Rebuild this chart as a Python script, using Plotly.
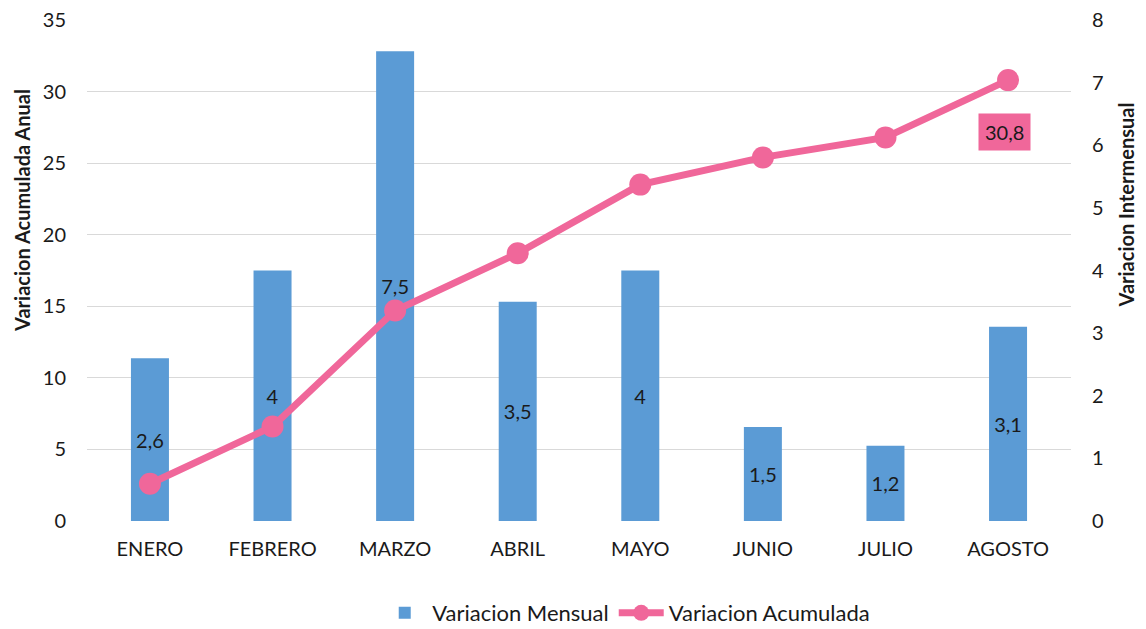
import plotly.graph_objects as go

months = ["ENERO", "FEBRERO", "MARZO", "ABRIL", "MAYO", "JUNIO", "JULIO", "AGOSTO"]
mensual = [2.6, 4, 7.5, 3.5, 4, 1.5, 1.2, 3.1]
acumulada = [2.6, 6.6, 14.7, 18.7, 23.5, 25.4, 26.8, 30.8]
left_ticks = [0, 5, 10, 15, 20, 25, 30, 35]
right_ticks = [0, 1, 2, 3, 4, 5, 6, 7, 8]

BLUE = "#5B9BD5"
PINK = "#F0679A"
FONT = "Lato"
TXT = "#1a1a1a"
FS = 20

fig = go.Figure()
fig.add_trace(go.Bar(
    x=months, y=mensual, name="Variacion Mensual",
    marker=dict(color=BLUE, line=dict(width=0)),
    width=0.31,
    text=mensual, texttemplate="%{y}", textposition="inside",
    insidetextanchor="middle", textangle=0,
    textfont=dict(family=FONT, size=FS, color=TXT),
    yaxis="y", cliponaxis=False,
))
fig.add_trace(go.Scatter(
    x=months, y=acumulada, name="Variacion Acumulada",
    mode="lines+markers",
    line=dict(color=PINK, width=7),
    marker=dict(color=PINK, size=22),
    yaxis="y2",
))

fig.add_annotation(
    x=months[-1], y=acumulada[-1], xref="x", yref="y2",
    text=f"{acumulada[-1]:.1f}".replace(".", ","),
    showarrow=False, yshift=-52, xshift=-4,
    bgcolor=PINK, borderpad=6,
    font=dict(family=FONT, size=FS, color=TXT),
)
fig.add_annotation(
    x=-0.0655, y=0.62, xref="paper", yref="paper", xanchor="center", yanchor="middle",
    text="<b>Variacion Acumulada Anual</b>", textangle=-90,
    showarrow=False, font=dict(family=FONT, size=FS, color=TXT),
)
fig.add_annotation(
    x=1.056, y=0.63, xref="paper", yref="paper", xanchor="center", yanchor="middle",
    text="<b>Variacion Intermensual</b>", textangle=-90,
    showarrow=False, font=dict(family=FONT, size=FS, color=TXT),
)

fig.update_layout(
    width=1138, height=621,
    margin=dict(l=78.5, r=75, t=12, b=108, autoexpand=False),
    paper_bgcolor="white", plot_bgcolor="white",
    separators=",.",
    font=dict(family=FONT, size=FS, color=TXT),
    showlegend=True,
    legend=dict(orientation="h", x=0.548, xanchor="center", y=-0.1836, yanchor="middle",
                font=dict(family=FONT, size=22, color=TXT), itemwidth=45, tracegroupgap=0,
                borderwidth=0),
    xaxis=dict(showgrid=False, showline=False, ticks="", ticklabelstandoff=14,
               automargin=False, tickfont=dict(family=FONT, size=FS, color=TXT)),
    yaxis=dict(side="right", range=[0, 8], tickvals=right_ticks, showgrid=False,
               zeroline=False, showline=False, ticks="", ticklabelstandoff=20,
               ticklabeloverflow="allow",
               automargin=False, tickfont=dict(family=FONT, size=FS, color=TXT)),
    yaxis2=dict(side="left", overlaying="y", range=[0, 35], tickvals=left_ticks,
                showgrid=True, gridcolor="#D9D9D9", gridwidth=1.3,
                zeroline=False, showline=False, ticks="", ticklabelstandoff=20,
                ticklabeloverflow="allow",
                automargin=False, tickfont=dict(family=FONT, size=FS, color=TXT)),
    bargap=0.69,
)

fig.write_html("out.html")
